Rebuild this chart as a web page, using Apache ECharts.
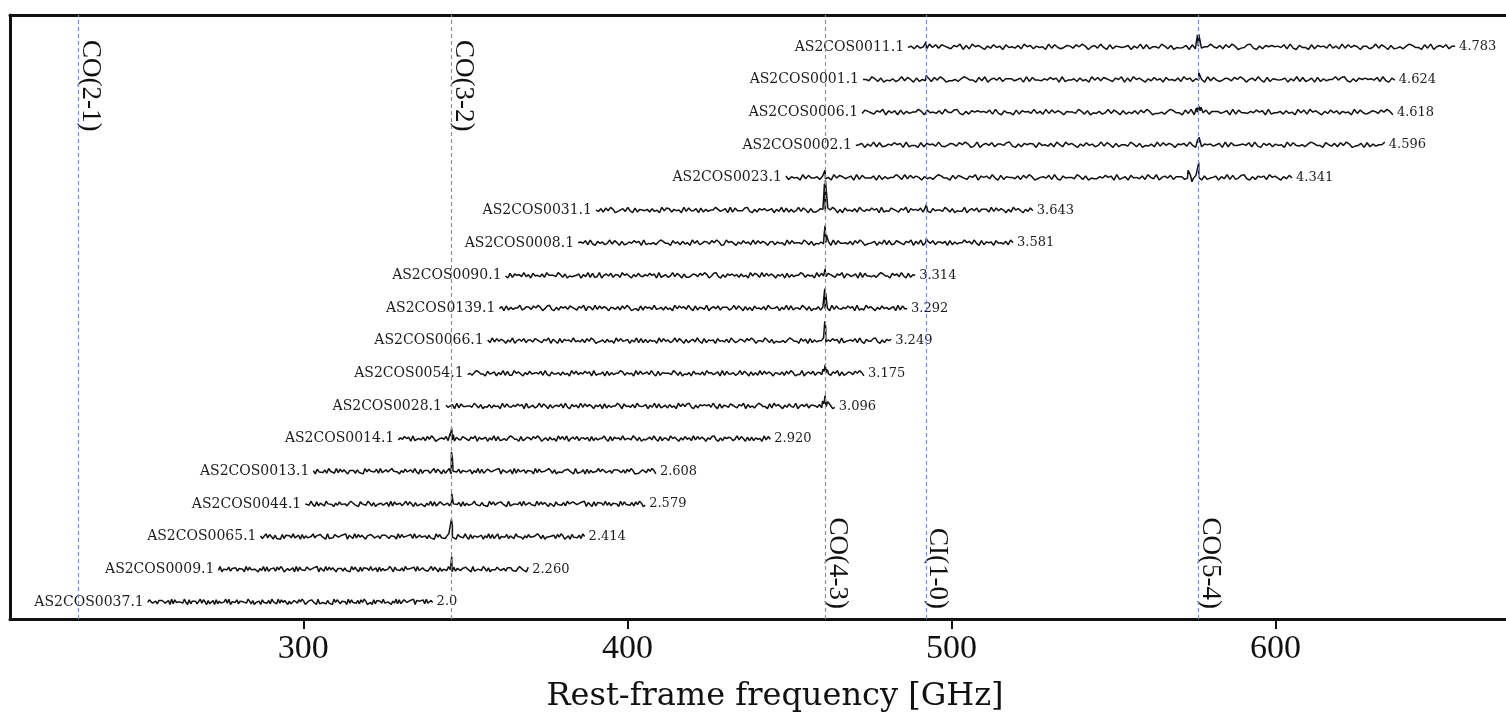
<!DOCTYPE html>
<html><head><meta charset="utf-8">
<script src="https://cdn.jsdelivr.net/npm/echarts@6/dist/echarts.min.js"></script>
<style>html,body{margin:0;padding:0;background:#fff}#c{width:1506px;height:719px}</style>
</head><body><div id="c"></div>
<script>
// ---------------- data ----------------
const sourceNames = ['AS2COS0011.1','AS2COS0001.1','AS2COS0006.1','AS2COS0002.1','AS2COS0023.1','AS2COS0031.1',
  'AS2COS0008.1','AS2COS0090.1','AS2COS0139.1','AS2COS0066.1','AS2COS0054.1','AS2COS0028.1',
  'AS2COS0014.1','AS2COS0013.1','AS2COS0044.1','AS2COS0065.1','AS2COS0009.1','AS2COS0037.1'];
const redshifts = ['4.783','4.624','4.618','4.596','4.341','3.643','3.581','3.314','3.292','3.249','3.175','3.096',
  '2.920','2.608','2.579','2.414','2.260','2.0'];
// rest-frame coverage of each spectrum [GHz]
const startFreq = [486.6,472.7,472.4,470.5,448.9,390.3,384.8,362.4,360.5,356.9,350.7,344.0,329.3,303.1,300.6,286.8,273.8,252.0];
const endFreq   = [655.4,636.8,636.2,633.7,605.1,525.1,519.0,488.8,486.3,481.4,473.0,464.0,444.1,408.8,405.5,386.8,369.4,339.9];
// channel noise, one digit per channel (0..9, ~4.7 = zero level)
const noise = [
 '4627351948 3864275917 2957416384 6184537295 7264519384 2476385961 5739418265 4571639282 5539627143 4718263559 5372849613 4893162757 5648293174 4182756393 6293847516 6249385172 3526974418 3915748266',
 '5539627143 6249385172 5372849613 3526974418 3915748266 6357192844 3648571924 4627351948 3864275917 2957416384 6184537295 7264519384 2476385961 5739418265 4571639282 4718263559 4893162757 5648293174',
 '3864275917 4718263559 6184537295 4893162757 5648293174 4182756393 6293847516 5539627143 6249385172 5372849613 3526974418 3915748266 6357192844 3648571924 4627351948 2957416384 7264519384 2476385961',
 '4571639282 3648571924 4182756393 2476385961 3915748266 4893162757 6184537295 2957416384 6249385172 5539627143 6293847516 5739418265 6357192844 5648293174 7264519384 3526974418 5372849613 4718263559',
 '7264519384 4627351948 6357192844 4718263559 6293847516 3526974418 3864275917 5739418265 5372849613 5648293174 5539627143 3648571924 6184537295 3915748266 6249385172 4571639282 4893162757 2957416384',
 '5372849613 5739418265 4627351948 7264519384 4718263559 6357192844 4893162757 4571639282 6249385172 2476385961 6184537295 3648571924 3864275917 5648293174 5539627143 3915748266 6293847516 2957416384',
 '5648293174 6249385172 3648571924 3526974418 4627351948 2476385961 2957416384 6293847516 7264519384 5539627143 6357192844 5372849613 4571639282 3864275917 3915748266 4718263559 5739418265 6184537295',
 '4182756393 6184537295 5539627143 4571639282 3915748266 2957416384 3648571924 6249385172 2476385961 4893162757 4627351948 6293847516 4718263559 7264519384 3864275917 6357192844 3526974418 5739418265',
 '4718263559 2476385961 4893162757 3864275917 6293847516 5372849613 4182756393 4627351948 5739418265 3915748266 6249385172 6184537295 4571639282 5539627143 7264519384 3648571924 2957416384 6357192844',
 '6293847516 3915748266 3864275917 4182756393 5372849613 4627351948 4571639282 7264519384 6249385172 5739418265 6184537295 2476385961 5539627143 3526974418 4718263559 3648571924 5648293174 4893162757',
 '3526974418 4571639282 2957416384 5648293174 4627351948 3648571924 4718263559 7264519384 5739418265 5539627143 6184537295 6357192844 6249385172 6293847516 5372849613 3915748266 3864275917 2476385961',
 '6357192844 5539627143 7264519384 3648571924 6249385172 5648293174 6293847516 4718263559 6184537295 4571639282 4627351948 4893162757 5739418265 3864275917 3526974418 2957416384 3915748266 5372849613',
 '3648571924 5372849613 5648293174 3864275917 4571639282 3526974418 2476385961 4627351948 3915748266 4718263559 4182756393 5539627143 5739418265 2957416384 6293847516 4893162757 6249385172 7264519384',
 '6184537295 6293847516 4627351948 5648293174 2957416384 5739418265 6249385172 3915748266 4571639282 3864275917 6357192844 7264519384 5539627143 3648571924 4718263559 4893162757 5372849613 2476385961',
 '5739418265 2957416384 3526974418 5539627143 6357192844 6249385172 4571639282 4893162757 4718263559 4627351948 3648571924 5648293174 6293847516 6184537295 3864275917 4182756393 7264519384 5372849613',
 '6249385172 4182756393 4718263559 3648571924 3864275917 6293847516 4893162757 7264519384 5648293174 4627351948 3526974418 5739418265 4571639282 3915748266 2957416384 5539627143 5372849613 6184537295',
 '3915748266 7264519384 4571639282 5372849613 6357192844 3864275917 6293847516 4627351948 4182756393 4718263559 6184537295 5648293174 6249385172 5739418265 3648571924 5539627143 4893162757 3526974418',
 '4893162757 6357192844 5739418265 6249385172 4718263559 3915748266 5539627143 6184537295 6293847516 2476385961 3648571924 4627351948 7264519384 5372849613 4182756393 4571639282 3864275917 5648293174'
];
// emission-line channels inserted into the spectra: [rest frequency GHz, flux in noise units]
const peaks = [
 [[492.2,1.8],[575.9,4.0],[576.3,4.3],[576.7,3.9]],
 [[492.2,1.4],[576.3,2.3]],
 [[575.6,1.5],[576.3,2.1],[577.0,1.7]],
 [[576.0,2.0],[576.4,2.6]],
 [[461.0,2.5],[573.0,2.4],[574.2,-1.4],[576.3,5.0]],
 [[460.8,8.8],[461.1,10.0],[492.2,1.8]],
 [[460.7,2.8],[461.0,5.8],[461.4,2.6],[492.2,1.4]],
 [[461.0,2.2]],
 [[460.9,6.5],[461.2,5.0]],
 [[460.9,6.5],[461.2,4.5]],
 [[460.3,1.4],[461.0,2.9],[461.7,1.3]],
 [[460.2,1.7],[461.0,3.5],[461.8,1.5]],
 [[345.3,1.8],[345.8,3.5],[346.3,1.4]],
 [[345.7,6.5],[346.0,4.6]],
 [[345.8,3.5]],
 [[345.7,5.8],[346.0,3.7]],
 [[345.8,4.3]],
 []
];
const lineNames = ['CO(2-1)','CO(3-2)','CO(4-3)','CI(1-0)','CO(5-4)'];
const lineFreqs = [230.54,345.80,461.04,492.16,576.27];
const lineLabelAtTop = [true,true,false,false,false];
const xTickValues = [300,400,500,600];
const axisTitle = 'Rest-frame frequency [GHz]';

// ---------------- chart ----------------
const chart = echarts.init(document.getElementById('c'), null, {renderer: 'canvas'});
const X_MIN = 209.5, X_MAX = 671.1, Y_MIN = -0.52, Y_MAX = 17.98;
const SCALE = 0.092;
const TOP_ROW = sourceNames.length - 1;

function spectrumData(i) {
  const s = noise[i].replace(/\s/g, ''), n = s.length, pts = [];
  for (let k = 0; k < n; k++) {
    const f = startFreq[i] + (endFreq[i] - startFreq[i]) * k / (n - 1);
    pts.push([f, (s.charCodeAt(k) - 48 - 4.7) / 4.5]);
  }
  peaks[i].forEach(p => pts.push([p[0], p[1]]));
  pts.sort((a, b) => a[0] - b[0]);
  return pts.map(p => [p[0], TOP_ROW - i + SCALE * p[1]]);
}

const series = [];
// dashed line markers
series.push({
  type: 'line', data: [[lineFreqs[0], 0]], symbol: 'none', lineStyle: {opacity: 0}, z: 1, silent: true,
  markLine: {
    symbol: 'none', silent: true, animation: false,
    label: {show: false},
    lineStyle: {type: [4, 3], color: '#6f8fd6', width: 1.2},
    data: lineFreqs.map(f => ({xAxis: f}))
  }
});
sourceNames.forEach((nm, i) => {
  series.push({
    type: 'line', data: spectrumData(i), symbol: 'none', showSymbol: false, silent: true, z: 3,
    lineStyle: {color: '#111', width: 1.5}
  });
});
const labelBase = {fontFamily: 'DejaVu Serif', color: '#1c1c1c', opacity: 1};
series.push({
  type: 'scatter', symbolSize: 0, silent: true, z: 4, itemStyle: {opacity: 1},
  data: sourceNames.map((nm, i) => ({value: [startFreq[i], TOP_ROW - i], name: nm})),
  label: Object.assign({show: true, position: 'left', distance: 4, formatter: '{b}', fontSize: 14}, labelBase)
});
series.push({
  type: 'scatter', symbolSize: 0, silent: true, z: 4, itemStyle: {opacity: 1},
  data: redshifts.map((z, i) => ({value: [endFreq[i], TOP_ROW - i], name: z})),
  label: Object.assign({show: true, position: 'right', distance: 4, formatter: '{b}', fontSize: 13}, labelBase)
});
series.push({
  type: 'scatter', symbolSize: 0, silent: true, z: 4, itemStyle: {opacity: 1},
  data: lineNames.map((nm, j) => ({
    value: [lineFreqs[j], lineLabelAtTop[j] ? Y_MAX : Y_MIN], name: nm,
    label: lineLabelAtTop[j]
      ? {align: 'left', verticalAlign: 'bottom', offset: [25, 2]}
      : {align: 'right', verticalAlign: 'bottom', offset: [-10, 2]}
  })),
  label: {show: true, position: 'inside', rotate: -90, formatter: '{b}', opacity: 1,
    fontFamily: 'Liberation Serif', fontSize: 27, color: '#111'}
});

const frameLine = {show: true, onZero: false, lineStyle: {color: '#111', width: 3}};
chart.setOption({
  animation: false,
  backgroundColor: '#fff',
  grid: {left: 10, right: 0, top: 15, bottom: 100, containLabel: false},
  xAxis: [{
    type: 'value', min: X_MIN, max: X_MAX, position: 'bottom',
    name: axisTitle, nameLocation: 'middle', nameGap: 62,
    nameTextStyle: {fontFamily: 'DejaVu Serif', fontSize: 32, color: '#111', padding: [0, 0, 0, 34]},
    axisLine: frameLine,
    axisTick: {show: true, customValues: xTickValues, length: 10, lineStyle: {color: '#111', width: 2}},
    axisLabel: {show: true, customValues: xTickValues, margin: 13,
      fontFamily: 'Liberation Serif', fontSize: 34, color: '#111'},
    splitLine: {show: false}
  }, {
    type: 'value', min: X_MIN, max: X_MAX, position: 'top',
    axisLine: frameLine, axisTick: {show: false}, axisLabel: {show: false}, splitLine: {show: false}
  }],
  yAxis: {
    type: 'value', min: Y_MIN, max: Y_MAX, position: 'left',
    axisLine: frameLine, axisTick: {show: false}, axisLabel: {show: false}, splitLine: {show: false}
  },
  series: series
});
</script></body></html>
